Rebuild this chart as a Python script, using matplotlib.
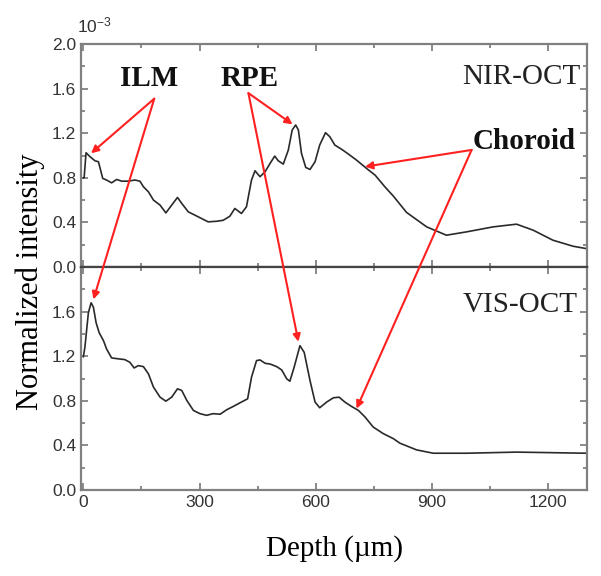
import matplotlib
matplotlib.use("Agg")
import matplotlib.pyplot as plt
from matplotlib.ticker import MultipleLocator

# NIR-OCT depth profile (x 1e-3)
nir_depth = [0, 2, 7, 17, 30, 39, 50, 60, 73, 86, 99, 116, 133, 146, 155, 168, 181, 198, 213,
             228, 243, 254, 271, 288, 305, 322, 344, 361, 378, 391, 408, 421, 434, 443, 456,
             469, 482, 494, 503, 516, 529, 539, 548, 555, 563, 574, 585, 598, 610, 625, 636,
             649, 667, 684, 705, 731, 753, 778, 800, 834, 886, 937, 989, 1058, 1118, 1161,
             1212, 1264, 1298]
nir_int = [0.80, 0.80, 1.025, 0.99, 0.953, 0.944, 0.795, 0.78, 0.755, 0.785, 0.77, 0.77, 0.78,
           0.77, 0.72, 0.674, 0.60, 0.555, 0.485, 0.555, 0.624, 0.57, 0.494, 0.465, 0.435,
           0.405, 0.41, 0.419, 0.455, 0.525, 0.48, 0.54, 0.78, 0.863, 0.81, 0.854, 0.93, 0.995,
           0.953, 0.923, 1.049, 1.229, 1.274, 1.229, 1.019, 0.893, 0.875, 0.944, 1.094, 1.205,
           1.169, 1.094, 1.055, 1.013, 0.959, 0.884, 0.824, 0.72, 0.636, 0.49, 0.36, 0.285,
           0.315, 0.36, 0.384, 0.33, 0.24, 0.186, 0.165]

# VIS-OCT depth profile (x 1e-3)
vis_depth = [0, 4, 13, 20, 26, 33, 41, 52, 60, 73, 90, 107, 120, 131, 142, 155, 168, 181, 198,
             213, 228, 243, 254, 267, 284, 301, 318, 335, 353, 370, 387, 403, 424, 434, 447,
             456, 469, 482, 499, 512, 525, 533, 544, 559, 570, 585, 598, 610, 628, 645, 660,
             675, 692, 710, 727, 748, 774, 800, 817, 860, 903, 989, 1118, 1298]
vis_int = [1.196, 1.28, 1.59, 1.68, 1.64, 1.50, 1.41, 1.34, 1.265, 1.185, 1.177, 1.17, 1.146,
           1.095, 1.116, 1.107, 1.042, 0.923, 0.833, 0.797, 0.833, 0.908, 0.893, 0.804, 0.714,
           0.685, 0.67, 0.685, 0.68, 0.72, 0.75, 0.78, 0.818, 1.012, 1.161, 1.167, 1.137, 1.13,
           1.107, 1.077, 0.997, 0.976, 1.101, 1.295, 1.235, 0.982, 0.789, 0.738, 0.789, 0.827,
           0.833, 0.789, 0.75, 0.714, 0.655, 0.565, 0.506, 0.461, 0.42, 0.36, 0.33, 0.33, 0.34,
           0.33]

yticks = [0.0, 0.4, 0.8, 1.2, 1.6, 2.0]
xticks = [0, 300, 600, 900, 1200]

# label -> (text pos, arrow start, tip in top panel, tip in bottom panel)
labels = {
    "ILM": ((170, 1.69), (183, 1.51), (20, 1.02), (26, 1.71)),
    "RPE": ((430, 1.69), (426, 1.56), (540, 1.28), (555, 1.33)),
    "Choroid": ((1138, 1.13), (1002, 1.05), (727, 0.90), (705, 0.73)),
}

serif = "Liberation Serif"
sans = "Liberation Sans"
plt.rcParams["font.family"] = sans
plt.rcParams["mathtext.fontset"] = "custom"
plt.rcParams["mathtext.rm"] = sans

fig = plt.figure(figsize=(6.01, 5.76), dpi=100)
ax_top = fig.add_axes([0.1348, 0.5365, 0.842, 0.387])
ax_bot = fig.add_axes([0.1348, 0.1493, 0.842, 0.387], sharex=ax_top)

ax_top.plot(nir_depth, nir_int, color="#2a2a2a", lw=1.2)
ax_bot.plot(vis_depth, vis_int, color="#2a2a2a", lw=1.2)

for ax in (ax_top, ax_bot):
    ax.set_xlim(-6, 1300)
    ax.set_ylim(0, 2.0)
    ax.set_xticks(xticks)
    ax.xaxis.set_minor_locator(MultipleLocator(150))
    ax.set_yticks(yticks)
    ax.yaxis.set_minor_locator(MultipleLocator(0.2))
    ax.tick_params(which="both", direction="in", top=True, right=True,
                   color="#777777", labelsize=12.5, labelcolor="#333333", width=1.2)
    ax.tick_params(which="major", length=5)
    ax.tick_params(which="minor", length=3)
    for s in ax.spines.values():
        s.set_color("#808080")
        s.set_linewidth(1.6)

ax_top.set_yticklabels(["%.1f" % v for v in yticks])
ax_bot.set_yticklabels(["%.1f" % v for v in yticks[:-1]] + [""])
ax_top.tick_params(labelbottom=False)
ax_bot.set_xticklabels([str(v) for v in xticks])
ax_top.spines["bottom"].set_color("#444444")
ax_bot.spines["top"].set_color("#444444")

ax_bot.set_xlabel("Depth (\u00b5m)", family=serif, fontsize=21, labelpad=18)
fig.text(0.05, 0.511, "Normalized intensity", family=serif, fontsize=22,
         rotation=90, va="center", ha="center")
fig.text(0.128, 0.943, r"$\mathregular{10^{-3}}$", fontsize=12.5, color="#333333")

ax_top.text(1283, 1.705, "NIR-OCT", family=serif, fontsize=21, ha="right", va="center",
            color="#222222")
ax_bot.text(1275, 1.66, "VIS-OCT", family=serif, fontsize=21, ha="right", va="center",
            color="#222222")

arrow = dict(arrowstyle="-|>", color="#ff2020", lw=1.5, mutation_scale=11,
             shrinkA=0, shrinkB=0)
for name, (tpos, start, tip_top, tip_bot) in labels.items():
    ax_top.text(tpos[0], tpos[1], name, family=serif, fontsize=21, fontweight="bold",
                ha="center", va="center", color="#111111")
    ax_bot.annotate("", xy=tip_top, xycoords=ax_top.transData, xytext=start,
                    textcoords=ax_top.transData, arrowprops=arrow, annotation_clip=False)
    ax_bot.annotate("", xy=tip_bot, xycoords="data", xytext=start,
                    textcoords=ax_top.transData, arrowprops=arrow, annotation_clip=False)

fig.savefig("out.png", dpi=100)
